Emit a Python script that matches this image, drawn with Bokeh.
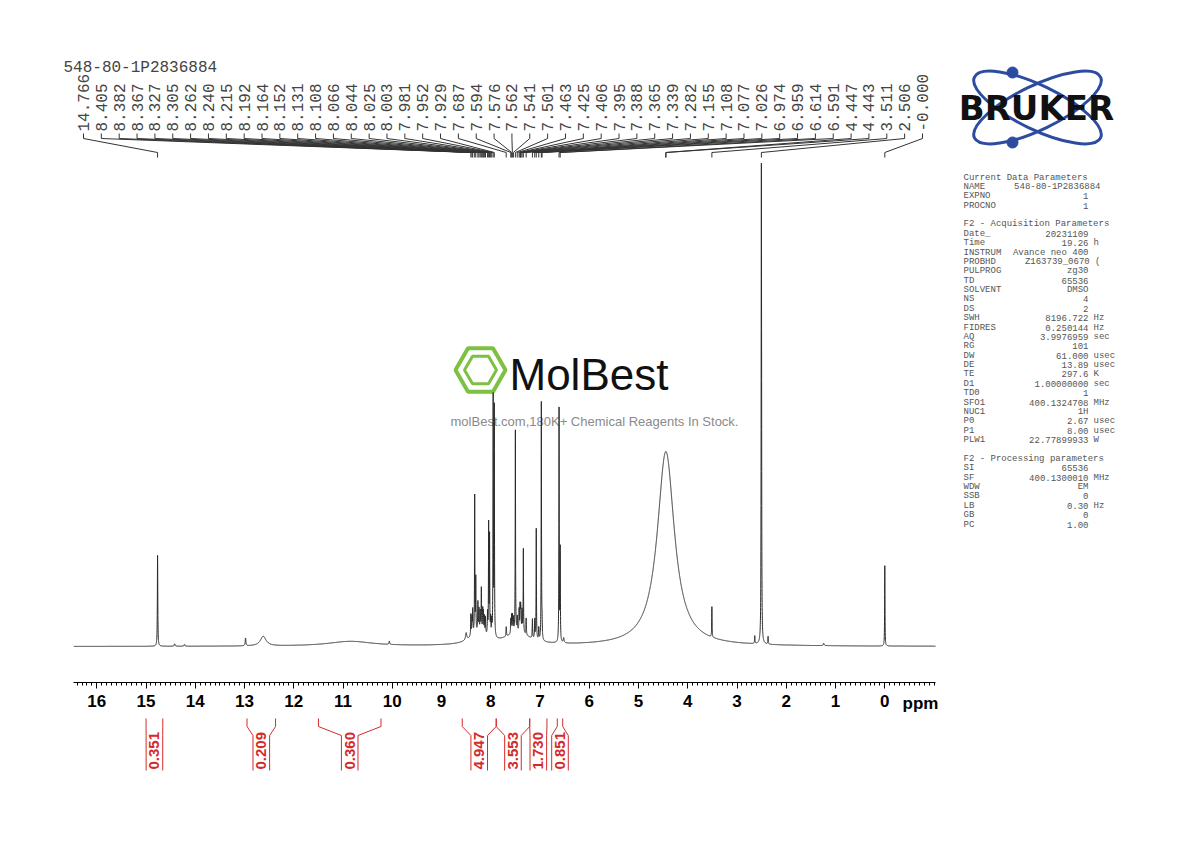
import numpy as np
from bokeh.plotting import figure
from bokeh.models import Range1d, LinearAxis, FixedTicker
from bokeh.core.properties import value
from bokeh.embed import file_html
from bokeh.resources import INLINE

# ---------------- data ----------------
sample_name = "548-80-1P2836884"

peak_labels = ["14.766", "8.405", "8.382", "8.367", "8.327", "8.305", "8.262", "8.240",
               "8.215", "8.192", "8.164", "8.152", "8.131", "8.108", "8.066", "8.044",
               "8.025", "8.003", "7.981", "7.952", "7.929", "7.687", "7.594", "7.576",
               "7.562", "7.541", "7.501", "7.463", "7.425", "7.406", "7.395", "7.388",
               "7.365", "7.339", "7.282", "7.155", "7.108", "7.077", "7.026", "6.974",
               "6.959", "6.614", "6.591", "4.447", "4.443", "3.511", "2.506", "-0.000"]

# resolved lines: position (ppm), height (% of tallest), half width (ppm)
line_ppm = [14.766, 14.42, 14.22, 12.98, 12.62, 10.85, 10.06,
            8.50, 8.405, 8.382, 8.367, 8.327, 8.305, 8.262, 8.240, 8.215, 8.192, 8.164,
            8.152, 8.131, 8.108, 8.066, 8.044, 8.025, 8.003, 7.981, 7.952, 7.929, 7.687,
            7.594, 7.576, 7.562, 7.541, 7.501, 7.463, 7.425, 7.406, 7.395, 7.388, 7.365,
            7.339, 7.282, 7.155, 7.108, 7.077, 7.026, 6.974, 6.959, 6.614, 6.591, 6.52,
            8.25, 7.45,
            4.445, 3.511, 2.64, 2.510, 2.506, 2.502, 2.37, 1.24, 0.000]
line_height = [18.9, 0.5, 0.4, 1.6, 2.0, 1.0, 0.7,
               1.5, 4.5, 3.5, 5.0, 28.5, 11.0, 6.0, 4.5, 4.0, 9.0, 4.5,
               4.0, 3.5, 3.5, 4.5, 23.0, 20.5, 3.5, 3.0, 49.5, 47.5, 2.0,
               3.0, 3.5, 3.5, 3.0, 42.0, 3.0, 4.5, 5.0, 4.0, 3.5, 4.5,
               17.5, 3.5, 4.0, 4.0, 23.0, 2.5, 49.5, 3.0, 48.5, 19.0, 1.0,
               2.5, 2.5,
               40.5, 6.3, 1.6, 22.0, 78.0, 22.0, 1.6, 0.5, 16.7]
line_hwhm = [0.005, 0.01, 0.01, 0.008, 0.07, 0.55, 0.008,
             0.015, 0.005, 0.005, 0.005, 0.004, 0.004, 0.005, 0.005, 0.005, 0.005, 0.005,
             0.005, 0.005, 0.005, 0.005, 0.004, 0.004, 0.005, 0.005, 0.004, 0.004, 0.006,
             0.005, 0.005, 0.005, 0.005, 0.004, 0.005, 0.005, 0.005, 0.005, 0.005, 0.005,
             0.004, 0.005, 0.005, 0.005, 0.004, 0.005, 0.004, 0.005, 0.004, 0.004, 0.01,
             0.2, 0.3,
             0.21, 0.004, 0.005, 0.004, 0.004, 0.004, 0.005, 0.01, 0.004]

integral_start = [15.00, 12.95, 11.50, 8.58, 7.89, 7.21, 6.65]
integral_end = [14.66, 12.37, 10.23, 7.89, 7.21, 6.86, 6.54]
integral_value = ["0.351", "0.209", "0.360", "4.947", "3.553", "1.730", "0.851"]

axis_ticks = list(range(0, 17))

cur_title = "Current Data Parameters"
cur_keys = ["NAME", "EXPNO", "PROCNO"]
cur_vals = ["548-80-1P2836884", "1", "1"]
cur_units = ["", "", ""]

acq_title = "F2 - Acquisition Parameters"
acq_keys = ["Date_", "Time", "INSTRUM", "PROBHD", "PULPROG", "TD", "SOLVENT", "NS", "DS",
            "SWH", "FIDRES", "AQ", "RG", "DW", "DE", "TE", "D1", "TD0", "SFO1", "NUC1",
            "P0", "P1", "PLW1"]
acq_vals = ["20231109", "19.26", "Avance neo 400", "Z163739_0670 (", "zg30", "65536", "DMSO",
            "4", "2", "8196.722", "0.250144", "3.9976959", "101", "61.000", "13.89", "297.6",
            "1.00000000", "1", "400.1324708", "1H", "2.67", "8.00", "22.77899933"]
acq_units = ["", "h", "", "", "", "", "", "", "", "Hz", "Hz", "sec", "", "usec", "usec", "K",
             "sec", "", "MHz", "", "usec", "usec", "W"]

proc_title = "F2 - Processing parameters"
proc_keys = ["SI", "SF", "WDW", "SSB", "LB", "GB", "PC"]
proc_vals = ["65536", "400.1300010", "EM", "0", "0.30", "0", "1.00"]
proc_units = ["", "MHz", "", "", "Hz", "", ""]

# ---------------- page geometry (layout only) ----------------
W, H = 1190, 842
PX0, PXS = 884.3, 49.25      # pixel of 0 ppm, pixels per ppm
PY0, PYS = 646.0, 4.81       # pixel of baseline, pixels per intensity unit


def X(px):
    return (PX0 - px) / PXS


def Y(py):
    return (PY0 - py) / PYS


AX_LEFT, AX_RIGHT = X(73.3), X(935.0)

p = figure(width=W, height=H, x_range=Range1d(X(0), X(W)), y_range=Range1d(Y(H), Y(0)),
           x_axis_type=None, y_axis_type=None, output_backend="svg", toolbar_location=None,
           min_border=0, outline_line_color=None, background_fill_color="white",
           border_fill_color="white")

# ---------------- watermark ----------------
p.scatter(x=[X(480)], y=[Y(369.5)], marker="hex", size=50, fill_color=None,
          line_color="#7cc142", line_width=4)
p.scatter(x=[X(480)], y=[Y(369.5)], marker="hex", size=32, fill_color=None,
          line_color="#7cc142", line_width=3)
p.text(x=[X(509)], y=[Y(374)], text=["MolBest"], text_font=value("Liberation Sans"),
       text_font_size="44px", text_color="#111111", text_align="left", text_baseline="middle")
p.text(x=[X(594)], y=[Y(421)], text=["molBest.com,180K+ Chemical Reagents In Stock."],
       text_font=value("Liberation Sans"), text_font_size="13px", text_color="#8a8a8a",
       text_align="center", text_baseline="middle")

# ---------------- spectrum ----------------
ppm = np.round(np.arange(AX_LEFT, AX_RIGHT, -0.001), 3)
inten = np.zeros_like(ppm)
for c, h, g in zip(line_ppm, line_height, line_hwhm):
    inten += h / (1.0 + ((ppm - c) / g) ** 2)
p.line(ppm, inten, line_color="#2a2a2a", line_width=1)

# ---------------- axis ----------------
minor = [t / 10 for t in range(-10, 165)]
xaxis = LinearAxis(ticker=FixedTicker(ticks=axis_ticks, minor_ticks=minor),
                   fixed_location=Y(682), bounds=(AX_RIGHT, AX_LEFT))
xaxis.axis_line_color = "black"
xaxis.axis_line_width = 1
xaxis.major_tick_in = 0
xaxis.major_tick_out = 6
xaxis.minor_tick_in = 0
xaxis.minor_tick_out = 3
xaxis.major_tick_line_color = "black"
xaxis.minor_tick_line_color = "black"
xaxis.major_label_standoff = 6
xaxis.major_label_text_font = "Liberation Sans"
xaxis.major_label_text_font_style = "bold"
xaxis.major_label_text_font_size = "17px"
xaxis.major_label_text_color = "black"
p.add_layout(xaxis, "below")
p.text(x=[X(902)], y=[Y(703)], text=["ppm"], text_font=value("Liberation Sans"),
       text_font_style="bold", text_font_size="17px", text_color="black",
       text_align="left", text_baseline="middle")

# ---------------- title and peak labels ----------------
p.text(x=[X(63)], y=[Y(67)], text=[sample_name], text_font=value("Liberation Mono"),
       text_font_size="16px", text_color="#444444", text_align="left", text_baseline="middle")

peak_pos = [float(s) for s in peak_labels]
lab_x = np.linspace(X(83), X(922), len(peak_labels))
p.text(x=lab_x, y=[Y(131)] * len(lab_x), text=peak_labels, angle=np.pi / 2,
       text_font=value("Liberation Mono"), text_font_size="16px", text_color="#444444",
       text_align="left", text_baseline="middle")
conn_xs = [[lx, lx, pk, pk] for lx, pk in zip(lab_x, peak_pos)]
conn_ys = [[Y(133), Y(138), Y(152), Y(157)] for _ in peak_pos]
p.multi_line(conn_xs, conn_ys, line_color="#333333", line_width=1)

# ---------------- integrals ----------------
RED = "#d42a2a"
half_w = 8.3 / PXS
int_xs, int_ys, int_cx = [], [], []
for a, b in zip(integral_start, integral_end):
    c = (a + b) / 2
    int_xs.append([a, a, c + half_w, c + half_w])
    int_xs.append([b, b, c - half_w, c - half_w])
    for _ in range(2):
        int_ys.append([Y(718), Y(726), Y(735), Y(770)])
    int_cx.append(c)
p.multi_line(int_xs, int_ys, line_color=RED, line_width=1)
p.text(x=int_cx, y=[Y(769)] * len(int_cx), text=integral_value, angle=np.pi / 2,
       text_font=value("Liberation Sans"), text_font_style="bold", text_font_size="15px",
       text_color=RED, text_align="left", text_baseline="middle")

# ---------------- Bruker logo ----------------
BLUE = "#2d4b9f"
p.ellipse(x=[X(1037), X(1037)], y=[Y(107), Y(107)], width=[140, 140], height=[44, 44],
          width_units="screen", height_units="screen", angle=[-0.45, 0.45],
          fill_color=None, line_color=BLUE, line_width=3)
p.scatter(x=[X(1012), X(1012)], y=[Y(72), Y(142)], size=11, fill_color=BLUE, line_color=BLUE)
p.text(x=[X(1036)], y=[Y(107)], text=["BRUKER"], text_font=value("DejaVu Sans"),
       text_font_style="bold", text_font_size="34px", text_color="#111111",
       text_align="center", text_baseline="middle")

# ---------------- parameter block ----------------
rows_key, rows_val, rows_unit, rows_valx = [], [], [], []


def add_section(title, keys, vals, units):
    rows_key.append(title)
    rows_val.append("")
    rows_unit.append("")
    rows_valx.append(1088)
    for k, v, u in zip(keys, vals, units):
        rows_key.append(k)
        rows_val.append(v)
        rows_unit.append(u)
        rows_valx.append(1100 if k in ("NAME", "PROBHD") else 1088)


def add_blank():
    rows_key.append("")
    rows_val.append("")
    rows_unit.append("")
    rows_valx.append(1088)


add_section(cur_title, cur_keys, cur_vals, cur_units)
add_blank()
add_section(acq_title, acq_keys, acq_vals, acq_units)
add_blank()
add_section(proc_title, proc_keys, proc_vals, proc_units)

row_y = [Y(177 + 9.38 * i) for i in range(len(rows_key))]
pfont = dict(text_font=value("Liberation Mono"), text_font_size="9px", text_color="#555555",
             text_baseline="middle")
p.text(x=[X(963)] * len(rows_key), y=row_y, text=rows_key, text_align="left", **pfont)
p.text(x=[X(v) for v in rows_valx], y=row_y, text=rows_val, text_align="right", **pfont)
p.text(x=[X(1093)] * len(rows_key), y=row_y, text=rows_unit, text_align="left", **pfont)

open("out.html", "w").write(file_html(p, INLINE))
